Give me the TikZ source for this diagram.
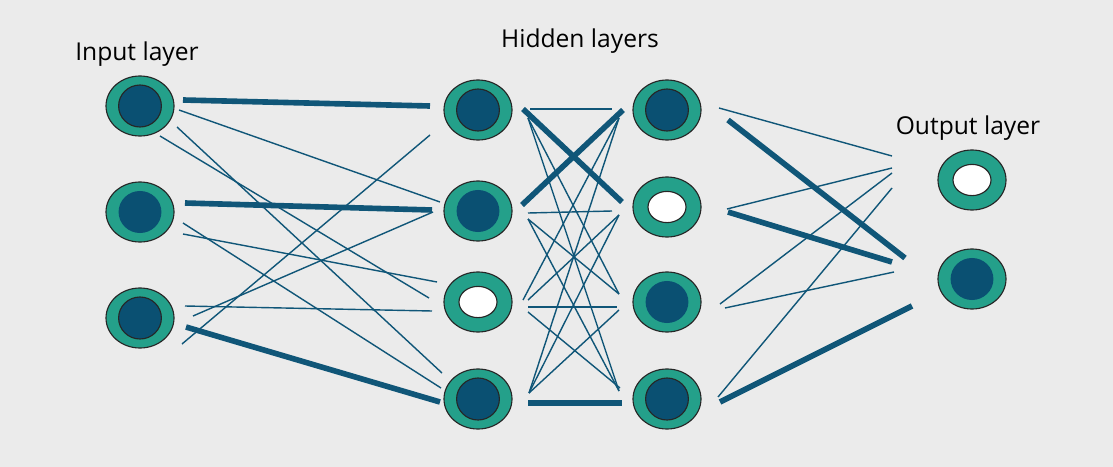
\documentclass[tikz,border=0pt]{standalone}
\usepackage{fontspec}
\setmainfont{Open Sans}
\usetikzlibrary{shapes.geometric}
\definecolor{bgc}{RGB}{235,235,235}
\definecolor{tealc}{RGB}{36,160,138}
\definecolor{navyc}{RGB}{10,80,114}
\definecolor{wirec}{RGB}{16,86,120}
\tikzset{
  unit/.style={ellipse,draw=black!85,fill=tealc,line width=.8pt,minimum width=17mm,minimum height=15mm,inner sep=0pt},
  full/.style={ellipse,draw=black!85,fill=navyc,line width=.8pt,minimum width=10.7mm,minimum height=10.5mm,inner sep=0pt},
  soft/.style={ellipse,fill=navyc,minimum width=10.7mm,minimum height=10.5mm,inner sep=0pt},
  hollow/.style={ellipse,draw=black!85,fill=white,line width=.8pt,minimum width=9.5mm,minimum height=7.8mm,inner sep=0pt},
  wire/.style={wirec,line width=1pt},
  heavy/.style={wirec,line width=4pt},
  title/.style={font=\fontsize{17.5}{20}\selectfont,anchor=base}
}
\begin{document}
\begin{tikzpicture}[x=0.025cm,y=-0.025cm]
\fill[bgc] (0,0) rectangle (1113,467);
\useasboundingbox (0,0) rectangle (1113,467);
% neurons: outer ring, then core
\foreach \n/\x/\y/\k in {in1/140/106/full,in2/140/212/soft,in3/140/318/full,
  ha1/478/110/full,ha2/478/211/soft,ha3/478/302/hollow,ha4/478/399/full,
  hb1/667/110/full,hb2/667/207/hollow,hb3/667/302/soft,hb4/667/399/full,
  out1/972/180/hollow,out2/972/279/soft}{
  \node[unit] (\n) at (\x,\y) {};
  \node[\k] (\n c) at (\n) {};
}
\node[title] (lblin) at (137,60) {Input layer};
\node[title] (lblhid) at (580,48) {Hidden layers};
\node[title] (lblout) at (968,134) {Output layer};
% weak weights
\foreach \a/\ax/\ay/\b/\bx/\by in {in1/39/4/ha2/-38/-9,in1/20/30/ha3/-49/-4,in1/37/21/ha4/-36/-26,
  in2/43/22/ha3/-41/-20,in2/43/11/ha4/-37/-11,
  in3/42/26/ha1/-48/25,in3/53/-2/ha2/-45/1,in3/45/-12/ha3/-46/9,
  ha1/52/-1/hb1/-55/-1,ha2/50/2/hb2/-55/4,ha3/50/5/hb3/-50/5,
  ha1/50/8/hb3/-48/-8,ha1/50/8/hb4/-48/-8,ha2/50/8/hb3/-48/-8,ha2/50/8/hb4/-48/-8,ha3/50/10/hb4/-47/-11,
  ha3/45/-2/hb1/-48/8,ha3/50/-2/hb2/-48/8,ha4/51/-6/hb1/-48/8,ha4/51/-6/hb2/-48/8,ha4/51/-6/hb3/-48/8,
  hb1/52/-2/out1/-80/-24,hb2/60/2/out1/-80/-12,hb3/53/2/out1/-80/-7,hb3/58/6/out2/-78/-7,hb4/51/-2/out1/-80/8}
  \draw[wire] ([shift={(\ax,\ay)}]\a.center) -- ([shift={(\bx,\by)}]\b.center);
% strong weights
\foreach \a/\ax/\ay/\b/\bx/\by in {in1/43/-6/ha1/-48/-4,in2/45/-9/ha2/-46/-1,in3/46/9/ha4/-38/3,
  ha1/45/-1/hb2/-45/-5,ha2/44/-6/hb1/-44/0,ha4/50/4/hb4/-45/4,
  hb1/61/10/out2/-67/-21,hb2/61/5/out2/-80/-17,hb4/53/3/out2/-60/27}
  \draw[heavy] ([shift={(\ax,\ay)}]\a.center) -- ([shift={(\bx,\by)}]\b.center);
\end{tikzpicture}
\end{document}
